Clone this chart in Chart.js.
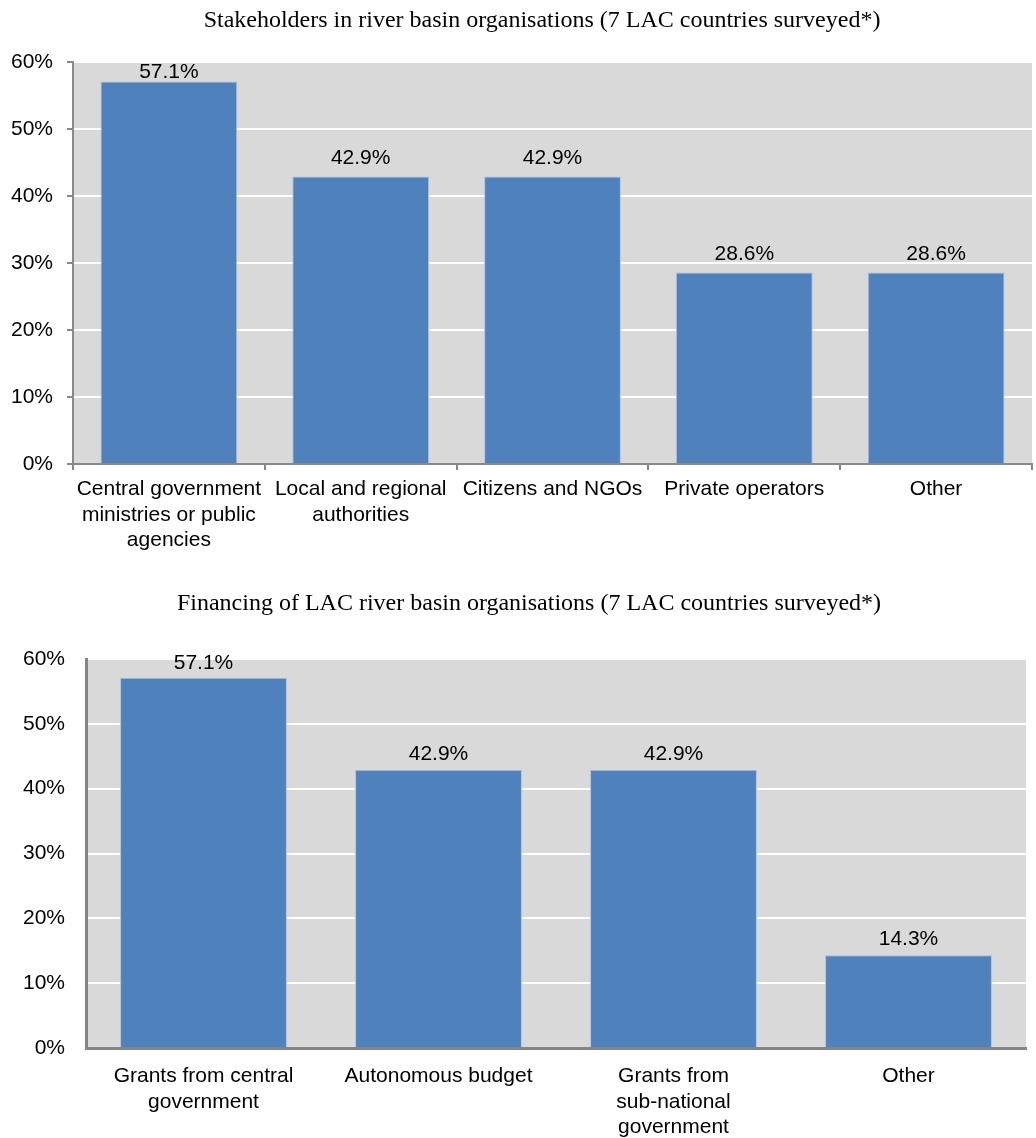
<!DOCTYPE html>
<html>
<head>
<meta charset="utf-8">
<script src="https://cdn.jsdelivr.net/npm/chart.js@4.4.1/dist/chart.umd.min.js"></script>
<style>
  body { margin: 0; background: #fff; }
  #page { position: relative; width: 1036px; height: 1138px; }
  canvas { position: absolute; left: 0; }
  .title { position: absolute; width: 1000px; text-align: center; font-family: "Liberation Serif", serif; font-size: 24px; line-height: 26px; white-space: nowrap; color: #000; }
</style>
</head>
<body>
<div id="page">
  <canvas id="stakeholders" width="1036" height="580" style="top:0"></canvas>
  <canvas id="financing" width="1036" height="558" style="top:580px"></canvas>
  <div class="title" style="left:42px; top:6px">Stakeholders in river basin organisations (7 LAC countries surveyed*)</div>
  <div class="title" style="left:29px; top:589px">Financing of LAC river basin organisations (7 LAC countries surveyed*)</div>
</div>
<script>
// Survey results, share of the 7 LAC countries
const stakeholderLabels = [
  ['Central government', 'ministries or public', 'agencies'],
  ['Local and regional', 'authorities'],
  'Citizens and NGOs',
  'Private operators',
  'Other'
];
const stakeholderShares = [57.1, 42.9, 42.9, 28.6, 28.6];

const financingLabels = [
  ['Grants from central', 'government'],
  'Autonomous budget',
  ['Grants from', 'sub-national', 'government'],
  'Other'
];
const financingShares = [57.1, 42.9, 42.9, 14.3];

const percentTicks = [0, 10, 20, 30, 40, 50, 60];

const sansFont = { family: 'Liberation Sans', size: 21, lineHeight: 1.2 };

// grey plot area behind the bars
const plotBackground = {
  id: 'plotBackground',
  beforeDraw(chart) {
    const { ctx, chartArea: a } = chart;
    ctx.save();
    ctx.fillStyle = '#d9d9d9';
    ctx.fillRect(a.left, a.top, a.width, a.height);
    ctx.restore();
  }
};

// value written above each bar
const valueLabels = {
  id: 'valueLabels',
  afterDatasetsDraw(chart, args, opts) {
    const ctx = chart.ctx;
    const top = chart.chartArea.top;
    const values = chart.data.datasets[0].data;
    ctx.save();
    ctx.font = '21px "Liberation Sans"';
    ctx.fillStyle = '#000';
    ctx.textAlign = 'center';
    ctx.textBaseline = 'middle';
    chart.getDatasetMeta(0).data.forEach((bar, i) => {
      const y = Math.max(bar.y - opts.gap, top + opts.minTop);
      ctx.fillText(values[i].toFixed(1) + '%', bar.x, y);
    });
    ctx.restore();
  }
};

function drawBars(id, labels, values, s) {
  return new Chart(document.getElementById(id), {
    type: 'bar',
    data: {
      labels: labels,
      datasets: [{
        data: values,
        backgroundColor: '#4f81bd',
        borderColor: '#a9c0dd',
        borderWidth: 1,
        barPercentage: s.barPct,
        categoryPercentage: 1.0
      }]
    },
    options: {
      responsive: false,
      animation: false,
      layout: { padding: { top: s.padTop, right: s.padRight, left: 0, bottom: 0 } },
      plugins: {
        legend: { display: false },
        tooltip: { enabled: false },
        valueLabels: { gap: s.labelGap, minTop: s.labelMinTop }
      },
      scales: {
        x: {
          grid: {
            drawOnChartArea: false,
            drawTicks: s.ticks,
            tickLength: 6,
            color: '#898989',
            lineWidth: 2
          },
          border: { color: s.axisColor, width: s.axisWidth },
          ticks: {
            color: '#000',
            font: sansFont,
            padding: s.xPad,
            autoSkip: false,
            maxRotation: 0
          },
          afterFit(scale) { scale.height = s.xHeight; }
        },
        y: {
          min: 0,
          max: 60,
          afterBuildTicks(scale) { scale.ticks = percentTicks.map(v => ({ value: v })); },
          grid: {
            color: '#ffffff',
            lineWidth: 2,
            drawTicks: s.ticks,
            tickLength: 6,
            tickColor: '#898989',
            tickWidth: 2
          },
          border: { color: s.axisColor, width: s.axisWidth },
          ticks: {
            color: '#000',
            font: sansFont,
            padding: s.yPad,
            callback: v => v + '%'
          },
          afterFit(scale) { scale.width = s.yWidth; }
        }
      }
    },
    plugins: [plotBackground, valueLabels]
  });
}

drawBars('stakeholders', stakeholderLabels, stakeholderShares, {
  padTop: 62, padRight: 4, xHeight: 116, yWidth: 73,
  ticks: true, xPad: 7, yPad: 14, barPct: 0.713,
  axisColor: '#898989', axisWidth: 2,
  labelGap: 18, labelMinTop: 10
});

drawBars('financing', financingLabels, financingShares, {
  padTop: 79, padRight: 10, xHeight: 90, yWidth: 86,
  ticks: false, xPad: 16, yPad: 21, barPct: 0.71,
  axisColor: '#858585', axisWidth: 3,
  labelGap: 16, labelMinTop: 4
});
</script>
</body>
</html>
